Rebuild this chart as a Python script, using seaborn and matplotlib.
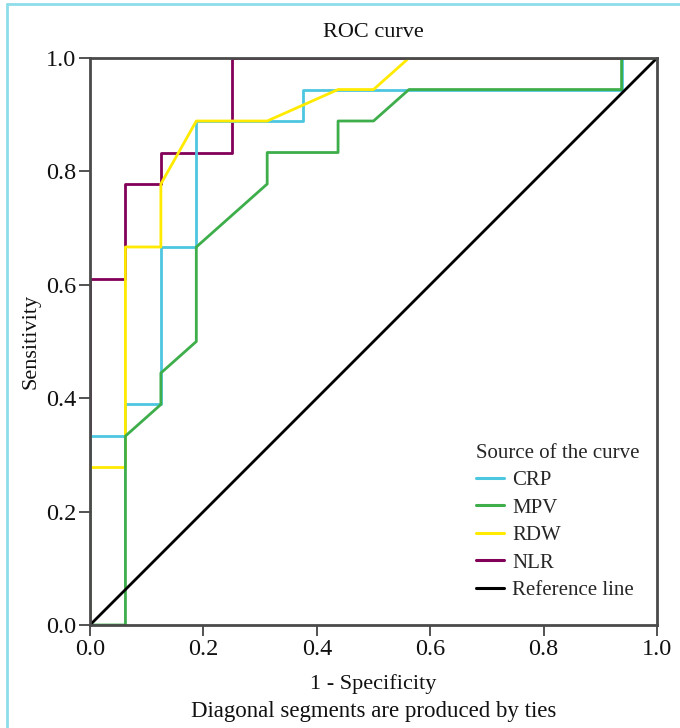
import matplotlib
matplotlib.use("Agg")
import matplotlib.pyplot as plt
import seaborn as sns
import pandas as pd
from matplotlib.lines import Line2D

sns.set_theme(style="white")
plt.rcParams['font.family'] = ['Liberation Serif', 'DejaVu Serif']

# ROC curve points (1 - specificity, sensitivity)
crp_fpr = [0.0, 0.0, 0.0625, 0.0625, 0.125, 0.125, 0.1875, 0.1875, 0.375, 0.375, 0.9375, 0.9375, 1.0]
crp_tpr = [0.0, 0.3333, 0.3333, 0.3889, 0.3889, 0.6667, 0.6667, 0.8889, 0.8889, 0.9444, 0.9444, 1.0, 1.0]

mpv_fpr = [0.0, 0.0625, 0.0625, 0.125, 0.125, 0.1875, 0.1875, 0.3125, 0.3125, 0.4375, 0.4375, 0.5, 0.5625, 0.9375, 0.9375, 1.0]
mpv_tpr = [0.0, 0.0, 0.3333, 0.3889, 0.4444, 0.5, 0.6667, 0.7778, 0.8333, 0.8333, 0.8889, 0.8889, 0.9444, 0.9444, 1.0, 1.0]

rdw_fpr = [0.0, 0.0, 0.0625, 0.0625, 0.125, 0.125, 0.1875, 0.3125, 0.4375, 0.5, 0.5625, 1.0]
rdw_tpr = [0.0, 0.2778, 0.2778, 0.6667, 0.6667, 0.7778, 0.8889, 0.8889, 0.9444, 0.9444, 1.0, 1.0]

nlr_fpr = [0.0, 0.0, 0.0625, 0.0625, 0.125, 0.125, 0.25, 0.25, 1.0]
nlr_tpr = [0.0, 0.6111, 0.6111, 0.7778, 0.7778, 0.8333, 0.8333, 1.0, 1.0]

ref_fpr = [0.0, 1.0]
ref_tpr = [0.0, 1.0]

series_names = ["CRP", "MPV", "RDW", "NLR", "Reference line"]
series_colors = ["#4DC6E0", "#3DAE4A", "#FFEA00", "#830058", "#000000"]
x_ticks = [0.0, 0.2, 0.4, 0.6, 0.8, 1.0]
y_ticks = [0.0, 0.2, 0.4, 0.6, 0.8, 1.0]

data = {
    "CRP": (crp_fpr, crp_tpr),
    "MPV": (mpv_fpr, mpv_tpr),
    "RDW": (rdw_fpr, rdw_tpr),
    "NLR": (nlr_fpr, nlr_tpr),
    "Reference line": (ref_fpr, ref_tpr),
}
zorders = {"NLR": 2, "CRP": 3, "RDW": 4, "MPV": 5, "Reference line": 6}

fig = plt.figure(figsize=(6.8, 7.28), dpi=100)
ax = fig.add_axes([90/680, 1-625/728, 567/680, 567/728])

for name, color in zip(series_names, series_colors):
    fx, fy = data[name]
    df = pd.DataFrame({"x": fx, "y": fy})
    sns.lineplot(data=df, x="x", y="y", sort=False, estimator=None, color=color,
                 linewidth=2.0, ax=ax, zorder=zorders[name])

ax.set_xlim(0, 1)
ax.set_ylim(0, 1)
ax.set_xticks(x_ticks)
ax.set_yticks(y_ticks)
ax.set_xticklabels([f"{t:.1f}" for t in x_ticks])
ax.set_yticklabels([f"{t:.1f}" for t in y_ticks])
ax.tick_params(axis="both", which="both", direction="out", length=8, width=1.3,
               color="#444444", labelsize=17.5, pad=2, bottom=True, left=True,
               top=False, right=False, labelcolor="#111111")
for sp in ax.spines.values():
    sp.set_color("#4a4a4a")
    sp.set_linewidth(2.0)
    sp.set_zorder(10)

ax.set_xlabel("1 - Specificity", fontsize=16, labelpad=10, color="#111111")
ax.set_ylabel("Sensitivity", fontsize=16, labelpad=4, color="#111111")
ax.set_title("ROC curve", fontsize=16, pad=15, color="#111111")
fig.text((90 + 657) / 2 / 680, 1 - 711 / 728, "Diagonal segments are produced by ties",
         ha="center", va="center", fontsize=16.5, color="#111111")

handles = [Line2D([0], [0], color=c, lw=2.2) for c in series_colors]
leg = ax.legend(handles, series_names, title="Source of the curve", loc="upper left",
                bbox_to_anchor=((461 - 90) / 567, (625 - 429) / 567), frameon=False,
                fontsize=15, title_fontsize=15, handlelength=1.35, handletextpad=0.4,
                labelspacing=0.38, borderpad=0.2)
leg._legend_box.align = "left"

# light cyan figure frame (top and left edges)
fig.add_artist(Line2D([7/680, 7/680], [0, 1 - 4/728], color="#8EDDEA", lw=2, transform=fig.transFigure))
fig.add_artist(Line2D([7/680, 1], [1 - 4/728, 1 - 4/728], color="#8EDDEA", lw=2, transform=fig.transFigure))

fig.savefig("out.png", dpi=100)
